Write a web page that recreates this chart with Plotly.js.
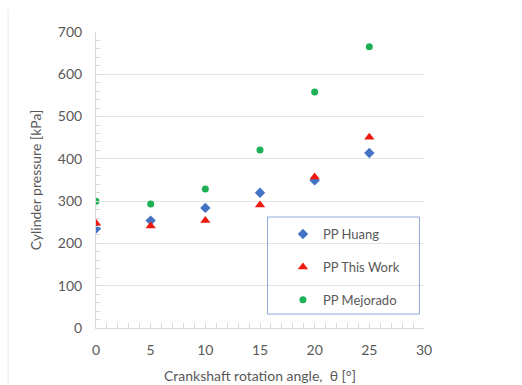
<!DOCTYPE html>
<html>
<head>
<meta charset="utf-8">
<script src="https://cdn.plot.ly/plotly-3.0.1.min.js"></script>
<style>html,body{margin:0;padding:0;background:#fff}#chart{width:522px;height:385px}</style>
</head>
<body>
<div id="chart"></div>
<script>
const angles = [0, 5, 10, 15, 20, 25];
const huang = [235, 254, 284, 320, 349, 414];
const thisWork = [248, 241, 254, 291, 357, 451];
const mejorado = [300, 293, 329, 421, 558, 665];
const seriesNames = ['PP Huang', 'PP This Work', 'PP Mejorado'];

const fontFam = 'Lato, "Open Sans", sans-serif';
const grey = '#595959';

const traces = [
  {x: angles, y: huang, name: seriesNames[0], mode: 'markers', type: 'scatter',
   legendgroup: 'a', marker: {symbol: 'diamond', size: 8, color: '#4472C4'}},
  {x: angles, y: thisWork, name: seriesNames[1], mode: 'markers', type: 'scatter',
   legendgroup: 'b', marker: {symbol: 'triangle-up', size: 9, color: '#F0180C'}},
  {x: angles, y: mejorado, name: seriesNames[2], mode: 'markers', type: 'scatter',
   legendgroup: 'c', marker: {symbol: 'circle', size: 7, color: '#1DB054'}}
];

const layout = {
  width: 522, height: 385,
  margin: {l: 96, r: 98, t: 32, b: 57, pad: 0},
  paper_bgcolor: '#fff', plot_bgcolor: '#fff',
  font: {family: fontFam, color: grey, size: 14},
  showlegend: true,
  legend: {
    x: 0.57, y: 0.368, xanchor: 'left', yanchor: 'top',
    bgcolor: 'rgba(0,0,0,0)', borderwidth: 0,
    traceorder: 'grouped', tracegroupgap: 13,
    font: {family: fontFam, size: 13, color: grey}
  },
  xaxis: {
    range: [0, 30], dtick: 5, tick0: 0,
    showgrid: false, zeroline: false,
    showline: true, linecolor: '#d9d9d9', linewidth: 1,
    ticks: 'inside', ticklen: 5, tickcolor: '#d9d9d9',
    minor: {dtick: 1, ticks: 'inside', ticklen: 5, tickcolor: '#d9d9d9', showgrid: false},
    tickfont: {size: 14, color: grey},
    ticklabelstandoff: 9,
    title: {text: 'Crankshaft rotation angle,  θ [°]', font: {size: 14, color: grey}, standoff: 14}
  },
  yaxis: {
    range: [0, 700], dtick: 100, tick0: 0,
    showgrid: true, gridcolor: '#e3e3e3', gridwidth: 1,
    zeroline: false,
    showline: true, linecolor: '#d9d9d9', linewidth: 1,
    ticks: 'inside', ticklen: 4, tickcolor: '#d9d9d9',
    minor: {dtick: 20, ticks: 'inside', ticklen: 4, tickcolor: '#d9d9d9', showgrid: false},
    tickfont: {size: 14, color: grey},
    ticklabelstandoff: 10,
    title: {text: 'Cylinder pressure [kPa]', font: {size: 14, color: grey}, standoff: 12}
  },
  shapes: [
    {type: 'rect', xref: 'paper', yref: 'paper', x0: 0.523, x1: 0.986, y0: 0.047, y1: 0.375,
     line: {color: '#8FAADC', width: 1}, fillcolor: 'rgba(0,0,0,0)'},
    {type: 'line', xref: 'paper', yref: 'paper', x0: -0.268, x1: -0.268, y0: -0.19, y1: 1.08,
     line: {color: '#ececec', width: 1}}
  ]
};

Plotly.newPlot('chart', traces, layout, {displayModeBar: false, staticPlot: true});
</script>
</body>
</html>
